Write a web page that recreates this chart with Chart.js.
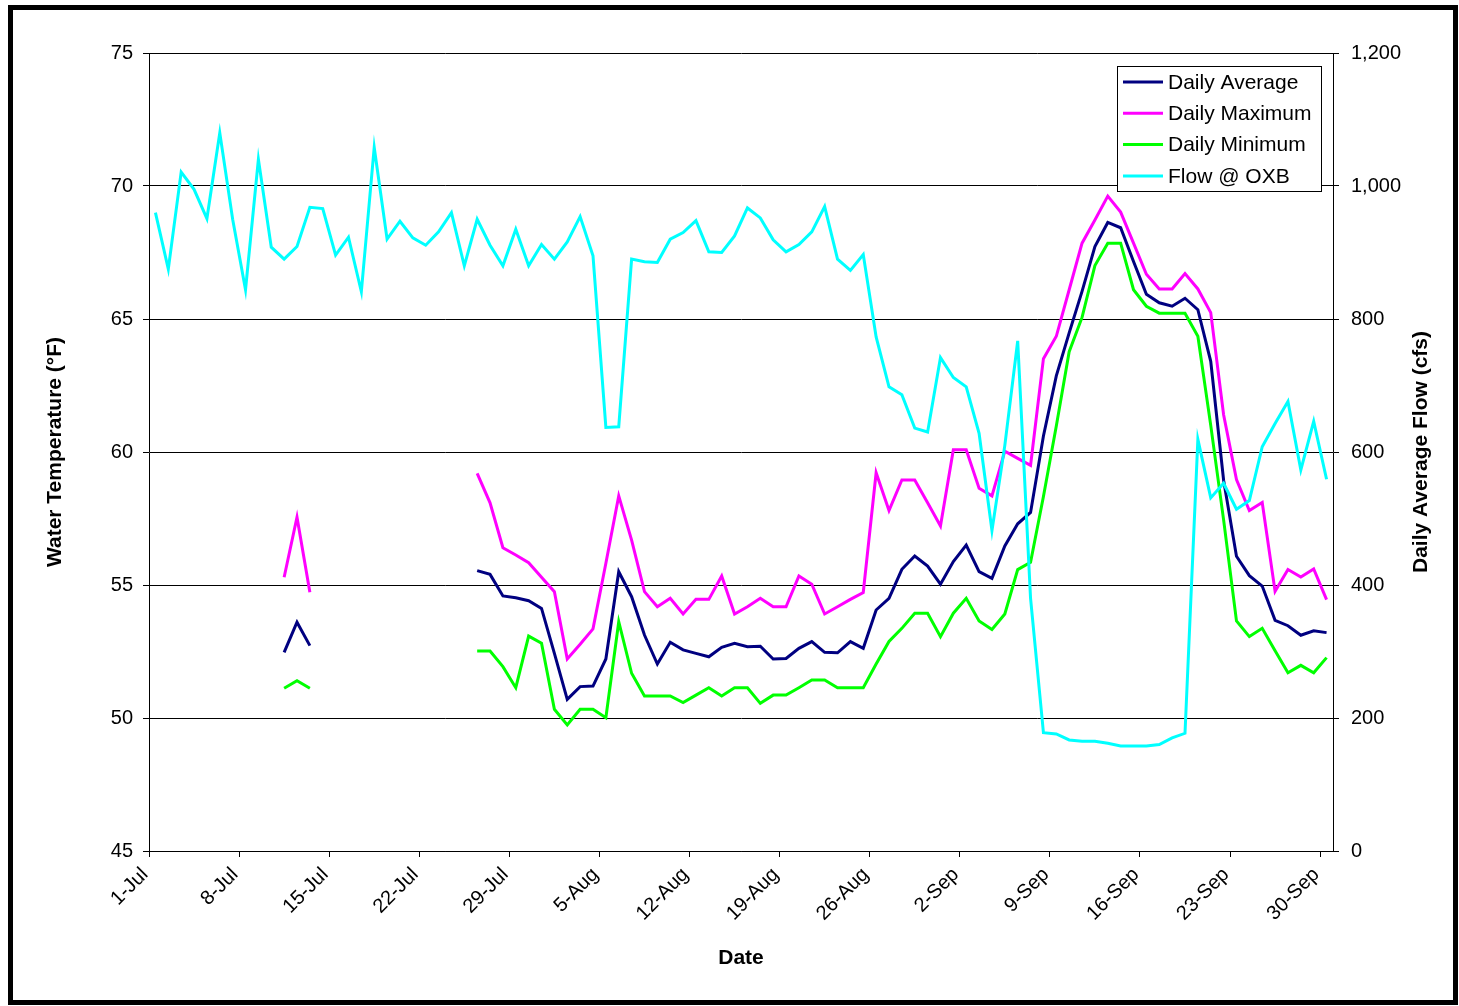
<!DOCTYPE html>
<html>
<head>
<meta charset="utf-8">
<title>Water Temperature and Flow</title>
<script src="https://cdn.jsdelivr.net/npm/chart.js@4.4.1/dist/chart.umd.min.js"></script>
<style>
  html, body { margin: 0; padding: 0; background: #fff; }
  canvas { display: block; }
</style>
</head>
<body>
<canvas id="tempchart" width="1459" height="1006"></canvas>
<script>
"use strict";

/*----------------------------------------*/
/*  data: 1-Jul .. 30-Sep, one value a day (null = no record)
/*----------------------------------------*/
var tickDays   = [0, 7, 14, 21, 28, 35, 42, 49, 56, 63, 70, 77, 84, 91];
var tickLabels = ["1-Jul", "8-Jul", "15-Jul", "22-Jul", "29-Jul", "5-Aug", "12-Aug",
                  "19-Aug", "26-Aug", "2-Sep", "9-Sep", "16-Sep", "23-Sep", "30-Sep"];

var tempTicks = [45, 50, 55, 60, 65, 70, 75];
var flowTicks = [0, 200, 400, 600, 800, 1000, 1200];

var dailyAvg = [
  null, null, null, null, null, null, null, null, null, null,
  52.47, 53.60, 52.72, null, null, null, null, null, null, null,
  null, null, null, null, null, 55.54, 55.40, 54.59, 54.52, 54.41,
  54.12, 52.43, 50.70, 51.18, 51.20, 52.22, 55.50, 54.56, 53.12, 52.03,
  52.85, 52.56, 52.43, 52.30, 52.66, 52.81, 52.68, 52.70, 52.22, 52.24,
  52.62, 52.87, 52.47, 52.45, 52.87, 52.62, 54.06, 54.50, 55.59, 56.09,
  55.71, 55.03, 55.88, 56.50, 55.50, 55.25, 56.47, 57.30, 57.73, 60.60,
  62.86, 64.48, 66.04, 67.72, 68.63, 68.43, 67.16, 65.93, 65.61, 65.48,
  65.78, 65.35, 63.41, 58.94, 56.08, 55.35, 54.96, 53.67, 53.47, 53.11,
  53.28, 53.21
];

var dailyMax = [
  null, null, null, null, null, null, null, null, null, null,
  55.29, 57.55, 54.73, null, null, null, null, null, null, null,
  null, null, null, null, null, 59.20, 58.09, 56.40, 56.13, 55.84,
  55.29, 54.75, 52.22, 52.77, 53.35, 55.82, 58.35, 56.69, 54.75, 54.18,
  54.50, 53.91, 54.46, 54.46, 55.34, 53.91, 54.18, 54.50, 54.18, 54.18,
  55.34, 55.03, 53.91, 54.18, 54.46, 54.72, 59.22, 57.80, 58.95, 58.95,
  58.09, 57.22, 60.08, 60.08, 58.64, 58.35, 60.03, 59.76, 59.50, 63.51,
  64.35, 66.10, 67.85, 68.72, 69.62, 69.02, 67.85, 66.68, 66.13, 66.13,
  66.71, 66.13, 65.24, 61.40, 58.96, 57.80, 58.10, 54.76, 55.58, 55.30,
  55.60, 54.45
];

var dailyMin = [
  null, null, null, null, null, null, null, null, null, null,
  51.12, 51.40, 51.12, null, null, null, null, null, null, null,
  null, null, null, null, null, 52.52, 52.52, 51.93, 51.14, 53.08,
  52.81, 50.33, 49.74, 50.33, 50.33, 50.01, 53.62, 51.68, 50.83, 50.83,
  50.83, 50.58, 50.86, 51.14, 50.83, 51.14, 51.14, 50.55, 50.86, 50.86,
  51.14, 51.43, 51.43, 51.14, 51.14, 51.14, 52.03, 52.88, 53.37, 53.94,
  53.94, 53.06, 53.94, 54.50, 53.65, 53.33, 53.91, 55.58, 55.85, 58.33,
  60.98, 63.77, 65.06, 67.01, 67.85, 67.85, 66.10, 65.48, 65.22, 65.22,
  65.22, 64.35, 61.00, 57.45, 53.65, 53.06, 53.37, 52.53, 51.70, 51.98,
  51.70, 52.27
];

var flowOXB = [
  960, 875, 1021, 995, 951, 1080, 950, 844, 1040, 908,
  890, 909, 968, 966, 896, 923, 841, 1058, 920, 947,
  922, 911, 931, 960, 880, 950, 911, 880, 935, 880,
  912, 890, 916, 954, 895, 637, 638, 890, 886, 885,
  920, 930, 948, 901, 900, 925, 967, 952, 919, 901,
  912, 931, 969, 890, 873, 897, 773, 698, 686, 636,
  630, 742, 712, 698, 628, 482, 610, 767, 380, 178,
  176, 167, 165, 165, 162, 158, 158, 158, 160, 170,
  177, 619, 531, 553, 514, 527, 608, 643, 676, 573,
  646, 559
];

var FONT = "'Liberation Sans', Arial, sans-serif";
Chart.defaults.font.family = FONT;
Chart.defaults.font.size = 20;
Chart.defaults.color = '#000';

// each day sits in the middle of its slot on the date axis
function toPoints(values) {
	return values.map(function (v, i) { return { x: i + 0.5, y: v }; });
}

// white page, thick outer frame, boxed legend and the right-hand title
var framePlugin = {
	id: 'frame',
	beforeDraw: function (chart) {
		var c = chart.ctx;
		c.save();
		c.fillStyle = '#fff';
		c.fillRect(0, 0, chart.width, chart.height);
		c.restore();
	},
	afterDraw: function (chart) {
		var c = chart.ctx;
		c.save();

		// legend box
		var lx = 1117, ly = 66, lw = 204, lh = 125;
		c.fillStyle = '#fff';
		c.fillRect(lx, ly, lw, lh);
		c.strokeStyle = '#000';
		c.lineWidth = 1;
		c.strokeRect(lx + 0.5, ly + 0.5, lw, lh);
		c.font = '21px ' + FONT;
		c.textBaseline = 'middle';
		c.textAlign = 'left';
		chart.data.datasets.forEach(function (ds, i) {
			var y = 82 + i * 31.3;
			c.strokeStyle = ds.borderColor;
			c.lineWidth = 3;
			c.beginPath();
			c.moveTo(lx + 6, y);
			c.lineTo(lx + 46, y);
			c.stroke();
			c.fillStyle = '#000';
			c.fillText(ds.label, lx + 51, y + 1);
		});

		// secondary axis title, reading upward like the left one
		c.translate(1421, 452);
		c.rotate(-Math.PI / 2);
		c.font = 'bold 21px ' + FONT;
		c.textAlign = 'center';
		c.fillStyle = '#000';
		c.fillText('Daily Average Flow (cfs)', 0, 0);
		c.restore();

		c.save();
		c.strokeStyle = '#000';
		c.lineWidth = 5;
		c.strokeRect(10.5, 7.5, 1445, 995);
		c.restore();
	}
};

var ctx = document.getElementById("tempchart");
var tempchart = new Chart(ctx, {
	type: 'line',
	data: {
		datasets: [{
			label: 'Daily Average',
			data: toPoints(dailyAvg),
			borderColor: '#000080',
			yAxisID: 'y',
			order: 1
		}, {
			label: 'Daily Maximum',
			data: toPoints(dailyMax),
			borderColor: '#FF00FF',
			yAxisID: 'y',
			order: 2
		}, {
			label: 'Daily Minimum',
			data: toPoints(dailyMin),
			borderColor: '#00FF00',
			yAxisID: 'y',
			order: 3
		}, {
			label: 'Flow @ OXB',
			data: toPoints(flowOXB),
			borderColor: '#00FFFF',
			yAxisID: 'y2',
			order: 0
		}]
	},
	options: {
		responsive: false,
		animation: false,
		spanGaps: false,
		elements: {
			line: { borderWidth: 3, tension: 0, fill: false, borderJoinStyle: 'miter' },
			point: { radius: 0, hoverRadius: 0 }
		},
		layout: { padding: { top: 53, left: 0, right: 0, bottom: 0 } },
		plugins: {
			legend: { display: false },
			tooltip: { enabled: false },
			title: { display: false }
		},
		scales: {
			x: {
				type: 'linear',
				position: 'bottom',
				min: 0,
				max: 92,
				afterBuildTicks: function (axis) {
					axis.ticks = tickDays.map(function (d) { return { value: d }; });
				},
				afterFit: function (axis) { axis.height = 155; },
				ticks: {
					autoSkip: false,
					maxRotation: 45,
					minRotation: 45,
					padding: 6,
					labelOffset: -4,
					callback: function (v, i) { return tickLabels[i]; }
				},
				grid: { drawOnChartArea: false, drawTicks: true, tickLength: 6, color: '#000' },
				border: { color: '#000', width: 1 },
				title: {
					display: true,
					text: 'Date',
					font: { weight: 'bold', size: 21 },
					padding: { top: 0, bottom: 35 }
				}
			},
			y: {
				type: 'linear',
				position: 'left',
				min: 45,
				max: 75,
				afterBuildTicks: function (axis) {
					axis.ticks = tempTicks.map(function (v) { return { value: v }; });
				},
				afterFit: function (axis) { axis.width = 149; },
				ticks: { padding: 10 },
				grid: { color: '#000', tickLength: 6 },
				border: { color: '#000', width: 1 },
				title: {
					display: true,
					text: 'Water Temperature (°F)',
					font: { weight: 'bold', size: 21 },
					padding: { top: 43, bottom: 0 }
				}
			},
			y2: {
				type: 'linear',
				position: 'right',
				min: 0,
				max: 1200,
				afterBuildTicks: function (axis) {
					axis.ticks = flowTicks.map(function (v) { return { value: v }; });
				},
				afterFit: function (axis) { axis.width = 126; },
				ticks: {
					padding: 12,
					callback: function (v) { return v.toLocaleString('en-US'); }
				},
				grid: { drawOnChartArea: false, color: '#000', tickLength: 6 },
				border: { color: '#000', width: 1 }
			}
		}
	},
	plugins: [framePlugin]
});
</script>
</body>
</html>
